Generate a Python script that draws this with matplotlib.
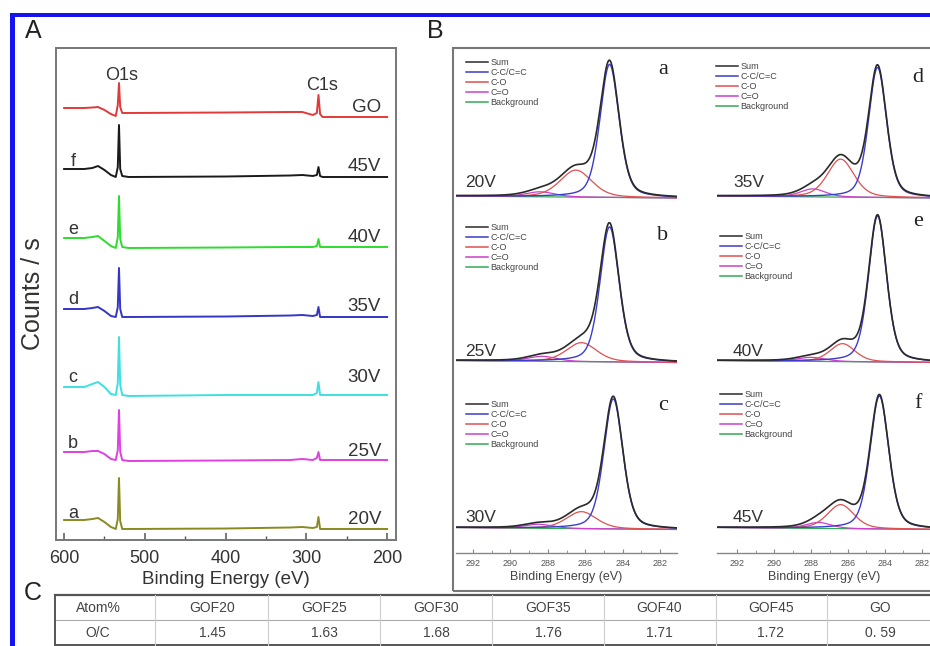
import numpy as np
import matplotlib
matplotlib.use("Agg")
import matplotlib.pyplot as plt
from matplotlib.patches import Rectangle
from matplotlib.lines import Line2D

# ---------------- data ----------------
# Panel A: survey spectra (relative intensity, arbitrary units)
survey_energy = [600, 575, 565, 558, 550, 542, 536, 533.5, 532, 530.5, 528, 520,
                 400, 320, 305, 292, 287, 285, 283, 280, 200]
survey_names = ["GO", "45V", "40V", "35V", "30V", "25V", "20V"]
survey_letters = ["", "f", "e", "d", "c", "b", "a"]
survey_offsets = [423, 363, 293, 223, 145, 80, 11]
survey_GO  = [9, 9, 9.5, 10, 7, 3, 1, 12, 34, 10, 4, 4, 4.5, 5, 5, 2, 4, 22, 3, 0, 0]
survey_45V = [8, 8, 9, 11, 7, 2, 0, 10, 52, 8, 1, 0, 0.5, 1.5, 2, 1, 2, 10, 1, 0, 0]
survey_40V = [9, 9, 10, 11, 6, 1, -1, 10, 51, 8, 0, -1, -0.5, 0, 0, 0, 1, 8, 0, 0, 0]
survey_35V = [8, 8, 9, 10, 6, 1, 0, 10, 49, 8, 0, 0, 0.5, 1.5, 2, 1, 2, 10, 0, 0, 0]
survey_30V = [8, 8, 11, 13, 8, 1, 0, 12, 58, 10, 0, -1, 0, 0, 0, 0, 2, 13, 0, 0, 0]
survey_25V = [8, 8, 9, 9, 6, 1, 0, 10, 50, 8, 0, -1, -0.5, 0, 1, 0, 2, 8, 0, 0, 0]
survey_20V = [9, 9, 10, 11, 7, 2, 0, 10, 51, 8, 0, 0, 0.5, 1.5, 2, 1, 2, 12, 0, 0, 0]
survey_colors = ["#e23a3a", "#1a1a1a", "#2ddc2d", "#3535c8", "#3ee0e0", "#e040e0", "#8a8a22"]

# Panel B: C1s peak-fit components (center eV, height, FWHM eV)
b_letters = ["a", "b", "c", "d", "e", "f"]
b_voltages = ["20V", "25V", "30V", "35V", "40V", "45V"]
cc_center = [284.7, 284.7, 284.5, 284.4, 284.4, 284.3]
cc_height = [133, 135, 130, 130, 146, 133]
cc_fwhm = [1.2, 1.2, 1.2, 1.15, 1.15, 1.2]
co_center = [286.5, 286.2, 286.2, 286.4, 286.3, 286.4]
co_height = [27, 19, 17, 38, 18, 24]
co_fwhm = [2.0, 1.9, 1.9, 1.7, 1.6, 1.7]
cdo_center = [288.4, 288.3, 288.5, 287.9, 288.0, 287.6]
cdo_height = [5, 5, 4, 8, 4, 6]
cdo_fwhm = [1.8, 1.8, 1.8, 1.6, 1.8, 1.6]
bg_high = [2, 2, 2, 2, 2, 2]
bg_low = [0, 0, 0, 0, 0, 0]
fit_labels = ["Sum", "C-C/C=C", "C-O", "C=O", "Background"]
fit_colors = ["#2a2a2a", "#3b3bcc", "#e05050", "#cc40cc", "#33aa55"]

# Panel C: table
table_header = ["Atom%", "GOF20", "GOF25", "GOF30", "GOF35", "GOF40", "GOF45", "GO"]
table_row = ["O/C", "1.45", "1.63", "1.68", "1.76", "1.71", "1.72", "0. 59"]

# ---------------- figure ----------------
W, H = 930, 646
plt.rcParams['font.family'] = ['Liberation Sans', 'DejaVu Sans']
fig = plt.figure(figsize=(W / 100, H / 100), dpi=100)
fig.patch.set_facecolor("white")


def fx(x):
    return x / W


def fy(y):
    return 1 - y / H


def add_ax(l, t, r, b):
    return fig.add_axes([l / W, 1 - b / H, (r - l) / W, (b - t) / H])


# blue frame (top and left)
fig.add_artist(Rectangle((fx(10), fy(17)), (935 - 10) / W, 4 / H, transform=fig.transFigure,
                         facecolor="#1414f0", edgecolor="none"))
fig.add_artist(Rectangle((fx(10), fy(650)), 5 / W, (650 - 13) / H, transform=fig.transFigure,
                         facecolor="#1414f0", edgecolor="none"))

# panel labels
fig.text(fx(33), fy(31), "A", fontsize=18, ha="center", va="center", color="#222")
fig.text(fx(435), fy(31), "B", fontsize=18, ha="center", va="center", color="#222")
fig.text(fx(33), fy(593), "C", fontsize=18, ha="center", va="center", color="#222")

# ---------------- Panel A ----------------
axA = add_ax(56, 48, 396, 540)
spectra = [survey_GO, survey_45V, survey_40V, survey_35V, survey_30V, survey_25V, survey_20V]
for vals, off, col in zip(spectra, survey_offsets, survey_colors):
    axA.plot(survey_energy, np.array(vals) + off, color=col, lw=1.4)
axA.set_xlim(610, 189)
axA.set_ylim(0, 492)
axA.set_yticks([])
axA.set_xticks([600, 500, 400, 300, 200])
axA.set_xticks([550, 450, 350, 250], minor=True)
axA.tick_params(axis="x", which="major", direction="in", length=5, width=1.1,
                labelsize=13, pad=7, colors="#555", labelcolor="#333")
axA.tick_params(axis="x", which="minor", direction="in", length=3, width=1.0, colors="#555")
for sp in axA.spines.values():
    sp.set_color("#777")
    sp.set_linewidth(1.4)
axA.set_xlabel("Binding Energy (eV)", fontsize=13.5, labelpad=3, color="#333")
fig.text(fx(33), fy(294), "Counts / s", fontsize=18, rotation=90, ha="center", va="center",
         color="#333")

fig.text(fx(122), fy(75), "O1s", fontsize=13, ha="center", va="center", color="#333")
fig.text(fx(322), fy(85), "C1s", fontsize=13, ha="center", va="center", color="#333")
right_label_y = [107, 166, 237, 307, 378, 451, 520]
left_letter_y = [0, 162, 230, 300, 377, 443, 513]
for name, letter, ly, ry in zip(survey_names, survey_letters, left_letter_y, right_label_y):
    fig.text(fx(381), fy(ry), name, fontsize=13.5, ha="right", va="center", color="#333")
    if letter:
        fig.text(fx(73), fy(ly), letter, fontsize=13, ha="center", va="center", color="#333")

# ---------------- Panel B ----------------
fig.add_artist(Rectangle((fx(453), fy(591)), (940 - 453) / W, (591 - 48) / H,
                         transform=fig.transFigure, facecolor="none", edgecolor="#777", lw=1.5))

cols_px = [(456, 677), (717, 932)]
rows_px = [(50, 200, 198), (205, 368, 362.5), (375, 553, 529.5)]
xlims = [(292.9, 281.1), (293.1, 281.45)]
volt_pos = [(465, 183), (465, 352), (465, 518), (733, 183), (733, 352), (733, 518)]
letter_pos = [(663, 70), (663, 235), (663, 405), (918, 77), (918, 222), (918, 403)]
legend_pos = [(466, 58), (466, 223), (466, 400), (716, 62), (720, 232), (720, 390)]


def pv(x, c, h, w, eta=0.35):
    g = np.exp(-4 * np.log(2) * ((x - c) / w) ** 2)
    l = 1 / (1 + 4 * ((x - c) / w) ** 2)
    return h * (eta * l + (1 - eta) * g)


for i in range(6):
    col = i // 3
    row = i % 3
    l, r = cols_px[col]
    t, b, base = rows_px[row]
    ax = add_ax(l, t, r, b)
    x = np.linspace(293.2, 281.0, 500)
    bg = np.interp(x, [281.0, 293.2], [bg_low[i], bg_high[i]])
    cc = pv(x, cc_center[i], cc_height[i], cc_fwhm[i]) + bg
    co = pv(x, co_center[i], co_height[i], co_fwhm[i]) + bg
    cdo = pv(x, cdo_center[i], cdo_height[i], cdo_fwhm[i]) + bg
    total = cc + co + cdo - 2 * bg
    ax.plot(x, bg, color=fit_colors[4], lw=0.9)
    ax.plot(x, cdo, color=fit_colors[3], lw=0.9)
    ax.plot(x, co, color=fit_colors[2], lw=0.9)
    ax.plot(x, cc, color=fit_colors[1], lw=1.0)
    ax.plot(x, total, color=fit_colors[0], lw=1.2)
    ax.set_xlim(*xlims[col])
    ax.set_ylim(-(b - base), base - t)
    ax.set_yticks([])
    ax.patch.set_alpha(0)
    for name, sp in ax.spines.items():
        sp.set_visible(name == "bottom" and row == 2)
    if row == 2:
        ax.spines["bottom"].set_color("#888")
        ax.spines["bottom"].set_linewidth(1.0)
        ax.set_xticks([292, 290, 288, 286, 284, 282])
        ax.set_xticks([291, 289, 287, 285, 283], minor=True)
        ax.tick_params(axis="x", which="major", direction="in", length=3, width=0.8,
                       labelsize=6.5, pad=4.5, colors="#888", labelcolor="#555")
        ax.tick_params(axis="x", which="minor", direction="in", length=2, width=0.7,
                       colors="#999")
        ax.set_xlabel("Binding Energy (eV)", fontsize=9, labelpad=2, color="#444")
    else:
        ax.set_xticks([])
    handles = [Line2D([], [], color=c, lw=1.1) for c in fit_colors]
    lx, ly = legend_pos[i]
    ax.legend(handles, fit_labels, loc="upper left", bbox_to_anchor=(fx(lx), fy(ly)),
              bbox_transform=fig.transFigure, frameon=False, fontsize=6.5,
              handlelength=2.4, handletextpad=0.3, labelspacing=0.12,
              borderpad=0, borderaxespad=0, labelcolor="#444")
    vx, vy = volt_pos[i]
    fig.text(fx(vx), fy(vy), b_voltages[i], fontsize=12.5, ha="left", va="center", color="#333")
    tx, ty = letter_pos[i]
    fig.text(fx(tx), fy(ty), b_letters[i], fontsize=16, ha="center", va="center",
             family=["Liberation Serif", "DejaVu Serif"], color="#222")

# ---------------- Panel C: table ----------------
col_centers = [98, 212, 324, 436, 548, 659, 771, 880]
dividers = [155, 268, 380, 492, 604, 716, 827]
t_top, t_mid, t_bot = 595, 620, 645
fig.add_artist(Line2D([fx(55), fx(935)], [fy(t_top), fy(t_top)], color="#555", lw=1.6))
fig.add_artist(Line2D([fx(55), fx(935)], [fy(t_mid), fy(t_mid)], color="#aaa", lw=0.8))
fig.add_artist(Line2D([fx(55), fx(935)], [fy(t_bot), fy(t_bot)], color="#555", lw=1.4))
fig.add_artist(Line2D([fx(55), fx(55)], [fy(t_top), fy(t_bot)], color="#555", lw=1.4))
for d in dividers:
    fig.add_artist(Line2D([fx(d), fx(d)], [fy(t_top), fy(t_bot)], color="#ccc", lw=0.8))
tfam = ["Liberation Sans Narrow", "Liberation Sans", "DejaVu Sans"]
for cx, h, v in zip(col_centers, table_header, table_row):
    fig.text(fx(cx), fy(608), h, fontsize=10, ha="center", va="center", color="#444", family=tfam)
    fig.text(fx(cx), fy(633), v, fontsize=10, ha="center", va="center", color="#444", family=tfam)

fig.savefig("out.png", dpi=100)
